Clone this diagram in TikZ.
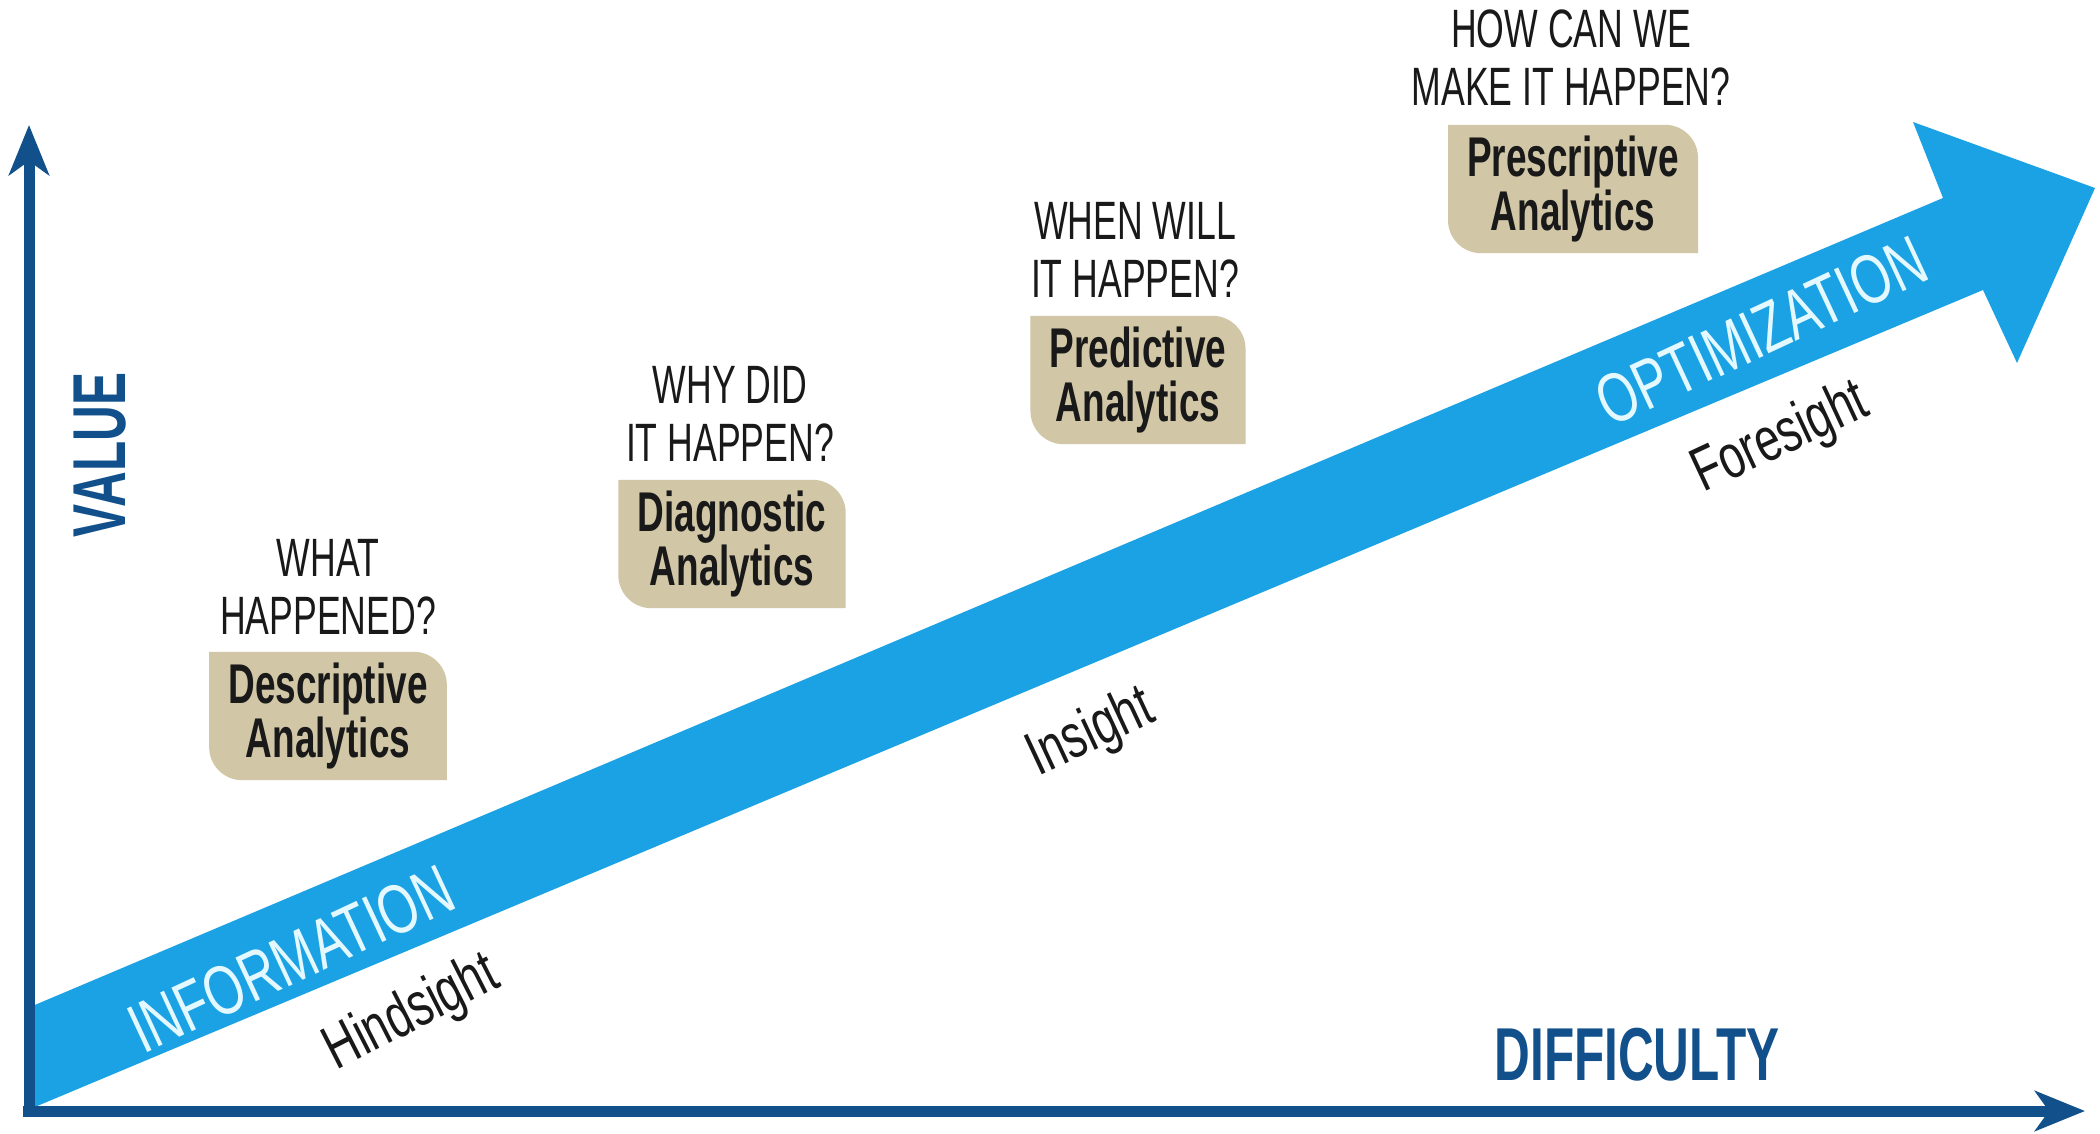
\documentclass[tikz,border=0pt]{standalone}
\usepackage{fontspec}
\setmainfont[FakeStretch=0.66]{Liberation Sans}
\newfontfamily\bandfont[FakeStretch=0.72]{Liberation Sans}
\newfontfamily\sightfont[FakeStretch=0.72]{Liberation Sans}
\usetikzlibrary{arrows.meta,backgrounds}
\definecolor{arrowblue}{RGB}{26,162,228}
\definecolor{axisblue}{RGB}{18,80,140}
\definecolor{boxtan}{RGB}{209,198,166}
\definecolor{bandwhite}{RGB}{228,249,255}
\newcommand\tanbox[1]{\fill[boxtan] (#1.north west) -- ([xshift=-33pt]#1.north east) .. controls ([xshift=-14.8pt]#1.north east) and ([yshift=-14.8pt]#1.north east) .. ([yshift=-33pt]#1.north east) -- (#1.south east) -- ([xshift=33pt]#1.south west) .. controls ([xshift=14.8pt]#1.south west) and ([yshift=14.8pt]#1.south west) .. ([yshift=33pt]#1.south west) -- cycle;}
\tikzset{
  qtext/.style={font=\fontsize{54}{58}\selectfont, align=center, inner sep=0pt, text=black!90},
  abox/.style={font=\bfseries\fontsize{56}{54}\selectfont, align=center, minimum height=128pt, inner xsep=19pt, inner ysep=0pt, text=black!90},
  bandtxt/.style={font=\bandfont\fontsize{70}{70}\selectfont, text=bandwhite, inner sep=0pt},
  sight/.style={font=\sightfont\fontsize{62}{62}\selectfont, text=black!90, inner sep=0pt},
  axlabel/.style={font=\bfseries\fontsize{75}{75}\selectfont, text=axisblue, inner sep=0pt},
  axisline/.style={draw=axisblue, line width=11pt, -{Stealth[length=50pt,width=40pt,inset=14pt]}}
}
\begin{document}
\begin{tikzpicture}[x=1pt,y=-1pt]
\useasboundingbox (0,0) rectangle (2100,1134);

% axes
\coordinate (ytip) at (29,125);
\coordinate (xtip) at (2085,1111);
\coordinate (ystart) at (29,1116);
\coordinate (xstart) at (23,1111);

% big arrow
\coordinate (sTL) at (30,1007);
\coordinate (sTR) at (1943,198);
\coordinate (hU) at (1913,122);
\coordinate (hT) at (2095,188);
\coordinate (hL) at (2017,363);
\coordinate (sBR) at (1983,290);
\coordinate (sBL) at (30,1109);
\fill[arrowblue] (sTL) -- (sTR) -- (hU) -- (hT) -- (hL) -- (sBR) -- (sBL) -- cycle;

\draw[axisline] (ystart) -- (ytip);
\draw[axisline] (xstart) -- (xtip);

% questions and boxes
\node[qtext] (q1) at (328,587) {WHAT\\HAPPENED?};
\node[abox] (b1) at (328,716) {Descriptive\\Analytics};
\node[qtext] (q2) at (730,414) {WHY DID\\IT HAPPEN?};
\node[abox] (b2) at (732,544) {Diagnostic\\Analytics};
\node[qtext] (q3) at (1135,250) {WHEN WILL\\IT HAPPEN?};
\node[abox] (b3) at (1138,380) {Predictive\\Analytics};
\node[qtext] (q4) at (1571,58) {HOW CAN WE\\MAKE IT HAPPEN?};
\node[abox] (b4) at (1573,189) {Prescriptive\\Analytics};
\begin{scope}[on background layer]
\fill[white] (0,0) rectangle (2100,1134);
\tanbox{b1}
\tanbox{b2}
\tanbox{b3}
\tanbox{b4}
\end{scope}

% band labels
\node[bandtxt, rotate=25] (info) at (291,959) {INFORMATION};
\node[bandtxt, rotate=25] (opt) at (1761,331) {OPTIMIZATION};
\node[sight, rotate=27] (hind) at (412,1014) {Hindsight};
\node[sight, rotate=25] (ins) at (1091,734) {Insight};
\node[sight, rotate=25] (fore) at (1781,439) {Foresight};

% axis labels
\node[axlabel, rotate=90] (val) at (100,455) {VALUE};
\node[axlabel] (diff) at (1637,1055) {DIFFICULTY};
\end{tikzpicture}
\end{document}
